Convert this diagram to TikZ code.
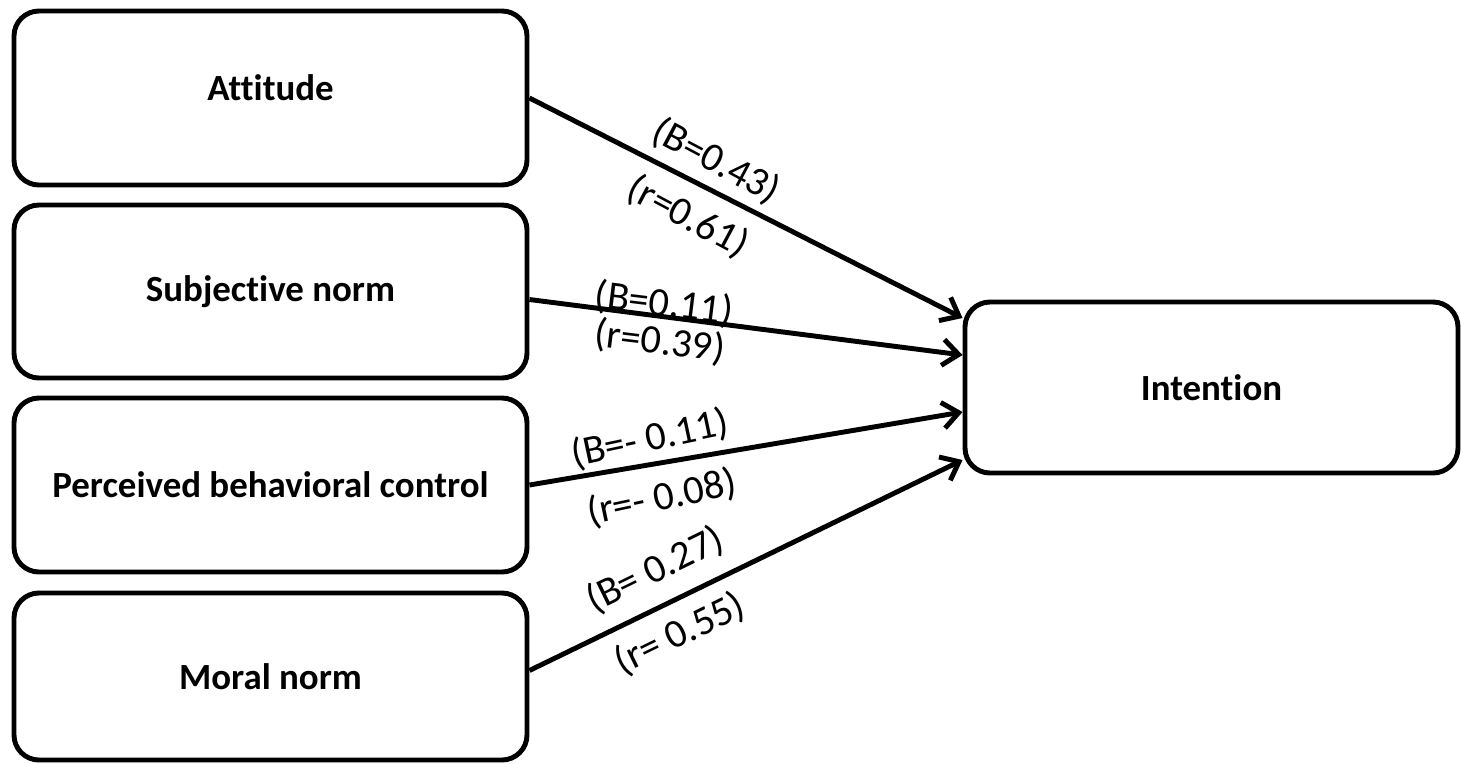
\documentclass[tikz,border=0pt]{standalone}
\usepackage{fontspec}
\setmainfont[Ligatures={NoCommon}]{Carlito}
\usetikzlibrary{arrows.meta}
\begin{document}
\begin{tikzpicture}[
  box/.style={draw=black, line width=2.8pt, rounded corners=0.5cm, fill=white,
    font=\fontsize{21}{25}\selectfont\bfseries, inner sep=0pt},
  link/.style={line width=2.8pt, -{Straight Barb[length=0.32cm,width=0.52cm,line width=2.8pt]}},
  lab/.style={font=\fontsize{23}{27}\selectfont, inner sep=0pt}
]
\useasboundingbox (0,0) rectangle (29.22,-15.26);
\node[box, minimum width=10.26cm, minimum height=3.48cm] (att) at (5.41,-1.96) {\raisebox{0.4cm}{Attitude}};
\node[box, minimum width=10.26cm, minimum height=3.46cm] (sub) at (5.41,-5.83) {Subjective norm};
\node[box, minimum width=10.26cm, minimum height=3.48cm] (pbc) at (5.41,-9.70) {Perceived behavioral control};
\node[box, minimum width=10.26cm, minimum height=3.34cm] (mor) at (5.41,-13.53) {Moral norm};
\node[box, minimum width=9.86cm, minimum height=3.42cm] (int) at (24.23,-7.75) {Intention};

\draw[link] (att.east) -- ([yshift=1.39cm]int.west);
\draw[link] ([yshift=-0.16cm]sub.east) -- ([yshift=0.65cm]int.west);
\draw[link] (pbc.east) -- ([yshift=-0.49cm]int.west);
\draw[link] ([yshift=0.12cm]mor.east) -- ([yshift=-1.45cm]int.west);

\node[lab, rotate=-28] (l1) at (14.32,-3.22) {(B=0.43)};
\node[lab, rotate=-28] (l2) at (13.76,-4.34) {(r=0.61)};
\node[lab, rotate=-7] (l3) at (13.28,-6.08) {(B=0.11)};
\node[lab, rotate=-7] (l4) at (13.20,-6.84) {(r=0.39)};
\node[lab, rotate=12] (l5) at (13.00,-8.78) {(B=- 0.11)};
\node[lab, rotate=12] (l6) at (13.24,-9.96) {(r=- 0.08)};
\node[lab, rotate=26] (l7) at (13.10,-11.40) {(B= 0.27)};
\node[lab, rotate=26] (l8) at (13.60,-12.68) {(r= 0.55)};
\end{tikzpicture}
\end{document}
